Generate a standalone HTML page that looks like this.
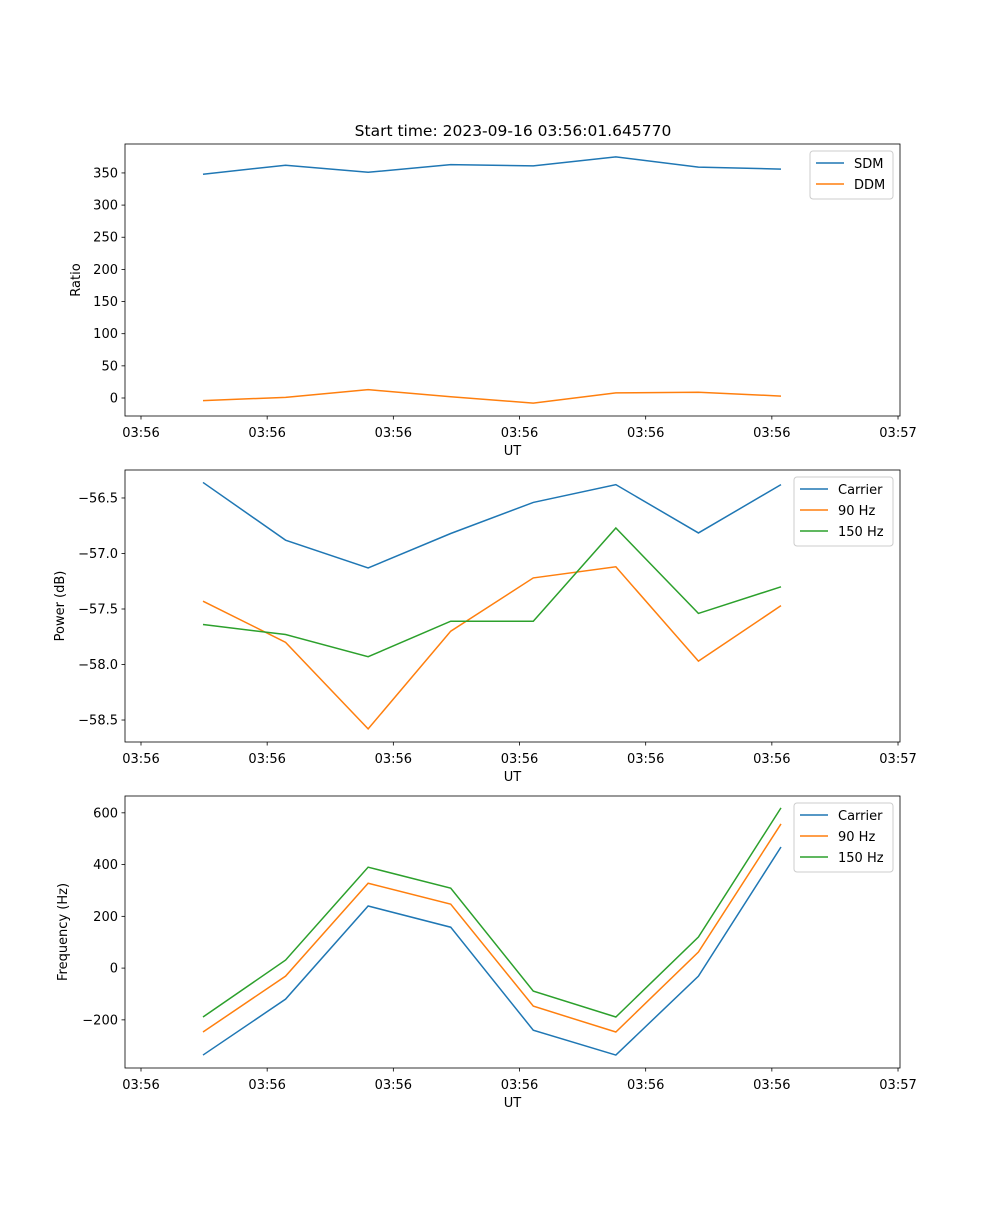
<!DOCTYPE html>
<html><head><meta charset="utf-8"><style>
body{margin:0;background:#fff;}
svg text{font-family:"DejaVu Sans","Liberation Sans",sans-serif;font-size:13px;fill:#000;}
</style></head><body>
<svg id="fig" width="1000" height="1200" xmlns="http://www.w3.org/2000/svg">
<rect width="1000" height="1200" fill="#fff"/>
<text x="513" y="136" text-anchor="middle" style="font-size:15.5px">Start time: 2023-09-16 03:56:01.645770</text>
</svg>
<script>
const xIdx = [0,1,2,3,4,5,6,7];
const xTickLabels = ["03:56","03:56","03:56","03:56","03:56","03:56","03:57"];
const sdm = [348,362,351,363,361,375,359,356];
const ddm = [-4,1,13,2,-8,8,9,3];
const pwCarrier = [-56.36,-56.88,-57.13,-56.82,-56.54,-56.38,-56.815,-56.38];
const pw90 = [-57.43,-57.80,-58.58,-57.70,-57.22,-57.12,-57.97,-57.47];
const pw150 = [-57.64,-57.73,-57.93,-57.61,-57.61,-56.77,-57.54,-57.30];
const frCarrier = [-336,-120,240,158,-240,-336,-31,468];
const fr90 = [-247,-31,328,247,-147,-247,62,557];
const fr150 = [-189,31,390,309,-89,-189,120,619];
const ticks1 = [0,50,100,150,200,250,300,350];
const ticks2 = [-58.5,-58.0,-57.5,-57.0,-56.5];
const ticks3 = [-200,0,200,400,600];

const NS="http://www.w3.org/2000/svg";
const svg=document.getElementById('fig');
function mk(tag,attrs,parent){const e=document.createElementNS(NS,tag);for(const k in attrs)e.setAttribute(k,attrs[k]);(parent||svg).appendChild(e);return e;}
const L=125,R=900;
const xs=i=>203+i*82.57;
const tickIdx=k=>(141+k*126.17-203)/82.57;
const colors=['#1f77b4','#ff7f0e','#2ca02c'];

function panel(name,top,bottom,ymin,ymax,yticks,fmt,ylabel,series,labels,legend){
  const g=mk('g',{});
  
  
  const ys=v=>bottom-(v-ymin)/(ymax-ymin)*(bottom-top);
  series.forEach((s,j)=>{
    const p=mk('polyline',{points:s.map((v,i)=>xs(xIdx[i])+','+ys(v)).join(' '),fill:'none',stroke:colors[j],'stroke-width':1.5},g);
    
    
  });
  mk('rect',{x:L,y:top,width:R-L,height:bottom-top,fill:'none',stroke:'#000','stroke-width':0.8},g);
  xTickLabels.forEach((t,k)=>{
    const x=xs(tickIdx(k));
    mk('line',{x1:x,x2:x,y1:bottom,y2:bottom+3.5,stroke:'#000','stroke-width':0.8},g);
    const tx=mk('text',{x:x,y:bottom+21,'text-anchor':'middle'},g);tx.textContent=t;
    
    
  });
  yticks.forEach(v=>{
    const y=ys(v);
    mk('line',{x1:L-3.5,x2:L,y1:y,y2:y,stroke:'#000','stroke-width':0.8},g);
    const tx=mk('text',{x:L-7,y:y+4.5,'text-anchor':'end'},g);tx.textContent=fmt(v);
    
    
  });
  const xl=mk('text',{x:(L+R)/2,y:bottom+39,'text-anchor':'middle'},g);xl.textContent='UT';
  
  
  const cy=(top+bottom)/2;
  const yl=mk('text',{x:0,y:0,'text-anchor':'middle',transform:`translate(${legend.yl},${cy}) rotate(-90)`},g);yl.textContent=ylabel;
  
  
  const lg=mk('g',{},g);
  
  
  mk('rect',{x:legend.x,y:top+7,width:R-7-legend.x,height:labels.length*21+6,rx:3,fill:'#fff',stroke:'#ccc','stroke-width':1},lg);
  labels.forEach((lab,j)=>{
    const yy=top+19+j*21;
    mk('line',{x1:legend.x+6,x2:legend.x+34,y1:yy,y2:yy,stroke:colors[j],'stroke-width':1.5},lg);
    const t=mk('text',{x:legend.x+44,y:yy+5},lg);t.textContent=lab;
    
    
  });
}
panel('ratio-panel',144,416,-28,395,ticks1,v=>String(v),'Ratio',[sdm,ddm],['SDM','DDM'],{x:810,yl:80});
panel('power-panel',470,742,-58.698,-56.248,ticks2,v=>'\u2212'+Math.abs(v).toFixed(1),'Power (dB)',[pwCarrier,pw90,pw150],['Carrier','90 Hz','150 Hz'],{x:794,yl:64});
panel('frequency-panel',796,1068,-386,665,ticks3,v=>(v<0?'\u2212':'')+Math.abs(v),'Frequency (Hz)',[frCarrier,fr90,fr150],['Carrier','90 Hz','150 Hz'],{x:794,yl:67});
</script>
</body></html>
